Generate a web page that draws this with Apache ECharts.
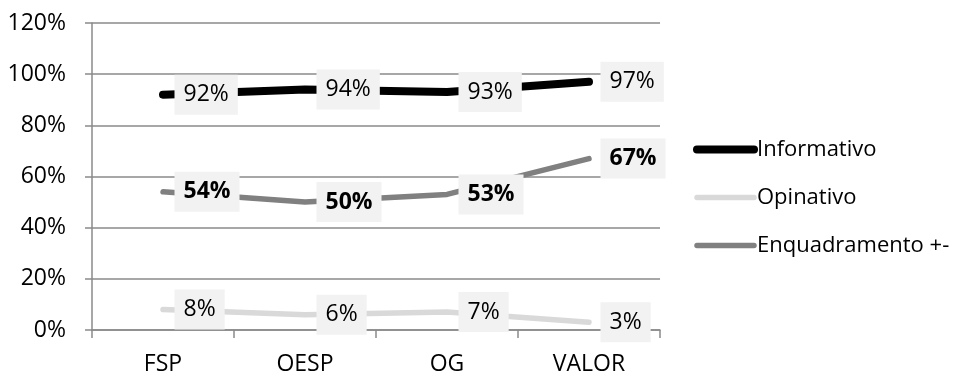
<!DOCTYPE html>
<html>
<head>
<meta charset="utf-8">
<script src="https://cdn.jsdelivr.net/npm/echarts@6/dist/echarts.min.js"></script>
<style>
  html, body { margin: 0; padding: 0; background: #fff; }
  #chart { width: 957px; height: 376px; }
</style>
</head>
<body>
<div id="chart"></div>
<script>
// Share of each news genre by newspaper
const categories = ['FSP', 'OESP', 'OG', 'VALOR'];
const informativo = [92, 94, 93, 97];
const opinativo = [8, 6, 7, 3];
const enquadramento = [54, 50, 53, 67];
const yTicks = { min: 0, max: 120, interval: 20 };

const FONT = '"Open Sans", "Noto Sans", sans-serif';
const FONT_SIZE = 23;
const gridColor = '#8a8a8a';

function labelStyle(bold) {
  return {
    show: true,
    position: 'right',
    distance: 11,
    formatter: '{c}%',
    color: '#000',
    fontFamily: FONT,
    fontSize: FONT_SIZE,
    fontWeight: bold ? 'bold' : 'normal',
    backgroundColor: '#f2f2f2',
    padding: [8, 9, 8, 9],
    lineHeight: 24
  };
}

function lineSeries(name, data, color, width, bold) {
  return {
    name: name,
    type: 'line',
    data: data,
    // tiny transparent symbols carry the value labels
    symbol: 'circle',
    symbolSize: 1,
    showSymbol: true,
    itemStyle: { color: 'rgba(0,0,0,0)' },
    lineStyle: { color: color, width: width, cap: 'round', join: 'round' },
    label: labelStyle(bold),
    emphasis: { disabled: true },
    animation: false
  };
}

const chart = echarts.init(document.getElementById('chart'), null, { renderer: 'canvas' });
chart.setOption({
  animation: false,
  grid: { left: 92, right: 297, top: 23, bottom: 43, containLabel: false },
  legend: {
    orient: 'vertical',
    left: 693,
    top: 138,
    padding: 0,
    itemWidth: 57,
    itemHeight: 14,
    itemGap: 25,
    lineStyle: { width: 'inherit', cap: 'round' },
    textStyle: { fontFamily: FONT, fontSize: 22, lineHeight: 23, color: '#000', padding: [0, 0, 0, -2] },
    data: ['Informativo', 'Opinativo', 'Enquadramento +-']
  },
  xAxis: {
    type: 'category',
    data: categories,
    boundaryGap: true,
    axisLine: { show: true, lineStyle: { color: gridColor, width: 1.5 } },
    axisTick: { show: true, length: 8, lineStyle: { color: gridColor, width: 1.5 } },
    axisLabel: { margin: 23, color: '#000', fontFamily: FONT, fontSize: FONT_SIZE },
    splitLine: { show: false }
  },
  yAxis: {
    type: 'value',
    min: yTicks.min,
    max: yTicks.max,
    interval: yTicks.interval,
    axisLine: { show: true, lineStyle: { color: gridColor, width: 1.5 } },
    axisTick: { show: true, length: 7, lineStyle: { color: gridColor, width: 1.5 } },
    axisLabel: { formatter: '{value}%', margin: 26, color: '#000', fontFamily: FONT, fontSize: FONT_SIZE },
    splitLine: { show: true, lineStyle: { color: gridColor, width: 1.5 } }
  },
  series: [
    lineSeries('Informativo', informativo, '#000000', 8, false),
    lineSeries('Opinativo', opinativo, '#d9d9d9', 5.5, false),
    lineSeries('Enquadramento +-', enquadramento, '#808080', 5.5, true)
  ]
});
</script>
</body>
</html>
